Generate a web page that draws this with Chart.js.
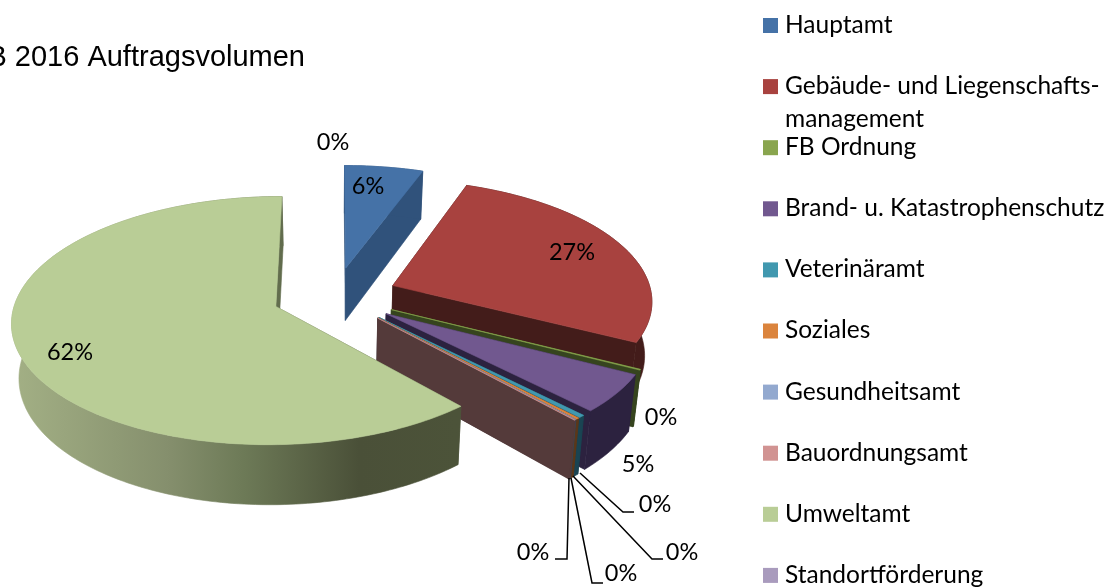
<!DOCTYPE html>
<html>
<head>
<meta charset="utf-8">
<title>Auftragsvolumen 2016</title>
<script src="https://cdn.jsdelivr.net/npm/chart.js@4/dist/chart.umd.min.js"></script>
<style>
  html, body { margin: 0; padding: 0; background: #fff; overflow: hidden; }
  #wrap { position: relative; width: 1110px; height: 588px; }
</style>
</head>
<body>
<div id="wrap"><canvas id="pieChart" width="1110" height="588"></canvas></div>
<script>
// chart data
const categories = ["Hauptamt", ["Gebäude- und Liegenschafts-", "management"], "FB Ordnung", "Brand- u. Katastrophenschutz", "Veterinäramt", "Soziales", "Gesundheitsamt", "Bauordnungsamt", "Umweltamt", "Standortförderung"];
const shares = [5.55, 27.05, 0.1, 5.05, 0.35, 0.2, 0.05, 0.05, 61.6, 0];
const titleText = "B 2016 Auftragsvolumen";

// colours
const topColors = ["#4572a7", "#a8423f", "#89a54e", "#71588f", "#4198af", "#db843d", "#93a9cf", "#d19392", "#b9cd96", "#a99bbd"];
const wallColors = ["#30527b", "#431c1a", "#36441e", "#2c223f", "#1a4452", "#5a371a", "#3b4553", "#543a3a", "#4c5339", "#443e4c"];
const umweltWall = [[0, "#a3b085"], [0.35, "#858f6d"], [0.52, "#6d7a57"], [0.78, "#4a5038"], [1, "#4c5339"]];

// label placement, same order as categories
const labelPos = [[368, 186], [572, 252], [661, 417], [638, 464], [655, 504], [682, 552], [621, 573], [533, 552], [70, 352], [333, 142]];
const leaders = { 4: [[580, 473], [623, 512], [634, 512]], 5: [[573, 476], [652, 559], [663, 559]], 6: [[571, 478], [592, 583], [603, 583]], 7: [[569, 478], [567, 559], [555, 559]] };

// view settings for the tilted pie
const view = { sx: 0.995, sy: 0.461, k: 0.113, depth: 53.5, wallX: 0.977, wallY: 1.044 };
const explode = 63;

function project(arc, wx, wy, low) {
  const w = 1 - view.k * wy / arc.outerRadius;
  let x = view.sx * wx / w;
  let y = view.sy * wy / w;
  if (low) {
    x *= view.wallX;
    y = y * view.wallY + view.depth;
  }
  return [arc.x + x, arc.y + y];
}

function slicePoints(arc, low) {
  const mid = (arc.startAngle + arc.endAngle) / 2;
  const ox = Math.cos(mid) * arc.options.offset;
  const oy = Math.sin(mid) * arc.options.offset;
  const steps = Math.max(2, Math.ceil((arc.endAngle - arc.startAngle) / 0.02));
  const rim = [];
  for (let s = 0; s <= steps; s++) {
    const a = arc.startAngle + (arc.endAngle - arc.startAngle) * s / steps;
    rim.push(project(arc, ox + Math.cos(a) * arc.outerRadius, oy + Math.sin(a) * arc.outerRadius, low));
  }
  return { apex: project(arc, ox, oy, low), rim };
}

function fillPath(ctx, pts, color) {
  ctx.beginPath();
  pts.forEach((p, i) => i ? ctx.lineTo(p[0], p[1]) : ctx.moveTo(p[0], p[1]));
  ctx.closePath();
  ctx.fillStyle = color;
  ctx.strokeStyle = color;
  ctx.lineWidth = 0.6;
  ctx.fill();
  ctx.stroke();
}

const tiltedPie = {
  id: "tiltedPie",
  beforeDatasetsDraw(chart) {
    const ctx = chart.ctx;
    const arcs = chart.getDatasetMeta(0).data;
    ctx.save();
    // data order is already back to front, Umweltamt ends up in front
    arcs.forEach((arc, i) => {
      if (!shares[i]) return;
      const top = slicePoints(arc, false);
      const low = slicePoints(arc, true);
      let wall = wallColors[i];
      if (categories[i] === "Umweltamt") {
        wall = ctx.createLinearGradient(12, 0, 457, 0);
        umweltWall.forEach(st => wall.addColorStop(st[0], st[1]));
      }
      // radial faces
      fillPath(ctx, [top.apex, top.rim[0], low.rim[0], low.apex], wall);
      fillPath(ctx, [top.apex, top.rim[top.rim.length - 1], low.rim[low.rim.length - 1], low.apex], wall);
      // outer wall
      fillPath(ctx, [...top.rim, ...low.rim.slice().reverse()], wall);
      // top face
      fillPath(ctx, [top.apex, ...top.rim], topColors[i]);
    });
    ctx.restore();
    return false;
  },
  afterDraw(chart) {
    const ctx = chart.ctx;
    const total = shares.reduce((a, b) => a + b, 0);
    ctx.save();

    // title, cut off by the left edge like the source image
    ctx.font = "29px 'Liberation Sans'";
    ctx.fillStyle = "#000";
    ctx.textAlign = "right";
    ctx.textBaseline = "middle";
    ctx.fillText(titleText, 305, 58);

    // leader lines
    ctx.strokeStyle = "#000";
    ctx.lineWidth = 1.5;
    Object.values(leaders).forEach(line => {
      ctx.beginPath();
      line.forEach((p, i) => i ? ctx.lineTo(p[0], p[1]) : ctx.moveTo(p[0], p[1]));
      ctx.stroke();
    });

    // percent labels
    ctx.font = "23.5px Lato";
    ctx.textAlign = "center";
    shares.forEach((v, i) => {
      ctx.fillText(Math.round(v / total * 100) + "%", labelPos[i][0], labelPos[i][1]);
    });

    // legend
    ctx.font = "24.5px Lato";
    ctx.textAlign = "left";
    categories.forEach((name, i) => {
      const y = 25 + i * 61.1;
      ctx.fillStyle = topColors[i];
      ctx.fillRect(763, y - 7, 15, 15);
      ctx.fillStyle = "#000";
      [].concat(name).forEach((line, n) => ctx.fillText(line, 785, y + n * 33));
    });
    ctx.restore();
  }
};

new Chart(document.getElementById("pieChart"), {
  type: "pie",
  data: {
    labels: categories,
    datasets: [{ data: shares, backgroundColor: topColors, offset: explode, borderWidth: 0 }]
  },
  options: {
    responsive: false,
    animation: false,
    layout: { padding: { top: 4, right: 440 } },
    plugins: { legend: { display: false }, tooltip: { enabled: false } }
  },
  plugins: [tiltedPie]
});
</script>
</body>
</html>
